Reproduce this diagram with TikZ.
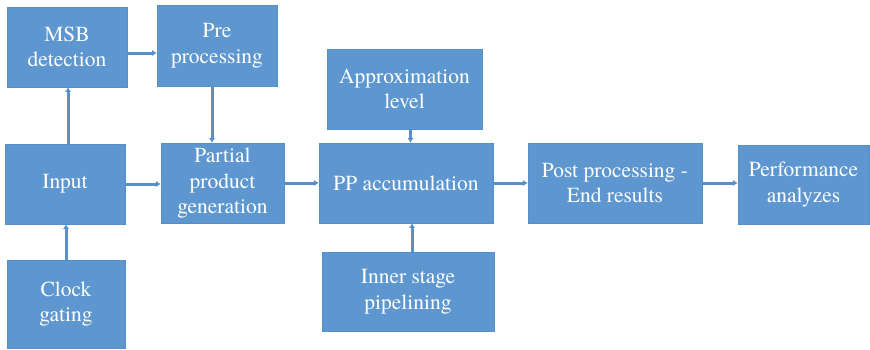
\documentclass[tikz,border=0pt]{standalone}
\usepackage{fontspec}
\newfontfamily\blockfont{TeX Gyre Termes}
\usetikzlibrary{arrows.meta}
\definecolor{boxblue}{HTML}{5E97CF}
\definecolor{linkblue}{HTML}{5690CB}
\begin{document}
\begin{tikzpicture}[x=1pt,y=1pt,
  box/.style={rectangle, fill=boxblue, draw=linkblue, line width=0.6pt,
    text=white, align=center, inner sep=0pt,
    font=\blockfont\fontsize{21.5}{25.5}\selectfont},
  link/.style={draw=linkblue, line width=3pt,
    -{Latex[length=4.5pt,width=6pt]}}]
\useasboundingbox (0,0) rectangle (870,349);
% blocks (centres measured from the top edge)
\node[box, minimum width=120, minimum height=80] (msb)    at (67,{349-47})    {MSB\\detection};
\node[box, minimum width=120, minimum height=81] (pre)    at (217,{349-45.5}) {Pre\\processing};
\node[box, minimum width=120, minimum height=80] (input)  at (65,{349-184})   {Input};
\node[box, minimum width=123, minimum height=80] (ppg)    at (222.5,{349-183}) {Partial\\product\\generation};
\node[box, minimum width=118, minimum height=88] (clock)  at (66,{349-304})   {Clock\\gating};
\node[box, minimum width=155, minimum height=80] (approx) at (404.5,{349-89}) {Approximation\\level};
\node[box, minimum width=174, minimum height=80] (ppacc)  at (406,{349-183})  {PP accumulation};
\node[box, minimum width=172, minimum height=79] (inner)  at (408,{349-291.5}) {Inner stage\\pipelining};
\node[box, minimum width=174, minimum height=80] (post)   at (615,{349-183})  {Post processing -\\End results};
\node[box, minimum width=131, minimum height=79] (perf)   at (803.5,{349-184.5}) {Performance\\analyzes};
% connections
\draw[link] ([yshift=-6pt]msb.east) -- ([yshift=-6pt]msb.east -| pre.west);
\draw[link] ([xshift=3pt]input.north) -- ([xshift=3pt]input.north |- msb.south);
\draw[link] (clock.north) -- (clock.north |- input.south);
\draw[link] ([xshift=-5pt]pre.south) -- ([xshift=-5pt]pre.south |- ppg.north);
\draw[link] (input.east) -- (input.east -| ppg.west);
\draw[link] (ppg.east) -- (ppg.east -| ppacc.west);
\draw[link] ([xshift=6pt]approx.south) -- ([xshift=6pt]approx.south |- ppacc.north);
\draw[link] ([xshift=4pt]inner.north) -- ([xshift=4pt]inner.north |- ppacc.south);
\draw[link] (ppacc.east) -- (ppacc.east -| post.west);
\draw[link] (post.east) -- (post.east -| perf.west);
\end{tikzpicture}
\end{document}
